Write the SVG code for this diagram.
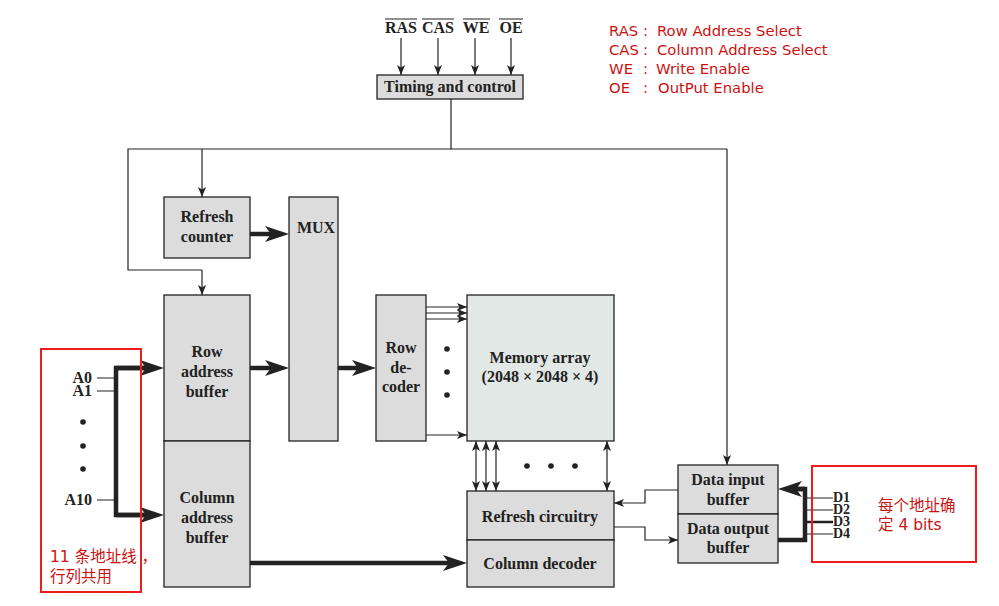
<svg xmlns="http://www.w3.org/2000/svg" width="999" height="606" viewBox="0 0 999 606">
<style>
.box{fill:#dcdcdc;stroke:#222;stroke-width:1.3}
.mem{fill:#e1e8e5;stroke:#222;stroke-width:1.3}
.lbl{font-family:"Liberation Serif","Times New Roman",serif;font-weight:bold;font-size:16px;fill:#222;text-anchor:middle}
.pin{font-family:"Liberation Serif","Times New Roman",serif;font-weight:bold;font-size:16px;fill:#222}
.dpin{font-family:"Liberation Serif","Times New Roman",serif;font-weight:bold;font-size:14px;fill:#222}
.thin{fill:none;stroke:#222;stroke-width:1.2}
.thick{fill:none;stroke:#222;stroke-width:4.5}
.red{font-family:"DejaVu Sans","Noto Sans CJK SC",sans-serif;font-size:14.8px;fill:#cc1111}
.redc{font-family:"DejaVu Sans","Noto Sans CJK SC",sans-serif;font-size:15.5px;fill:#cc1111}
.rbox{fill:none;stroke:#ee1c1c;stroke-width:2}
.dot{fill:#222}
</style>
<defs>
<marker id="ah" viewBox="0 0 10 8" refX="10" refY="4" markerWidth="10" markerHeight="8" markerUnits="userSpaceOnUse" orient="auto-start-reverse"><path d="M0,0 L10,4 L0,8 L2.5,4 z" fill="#222"/></marker>
<marker id="ahb" viewBox="0 0 24 16" refX="14" refY="8" markerWidth="24" markerHeight="16" markerUnits="userSpaceOnUse" orient="auto"><path d="M0,0 L24,8 L0,16 L6,8 z" fill="#222"/></marker>
</defs>

<!-- legend -->
<g id="legend">
<text class="red" y="36"><tspan x="609">RAS</tspan><tspan x="643">:</tspan><tspan x="657">Row Address Select</tspan></text>
<text class="red" y="55"><tspan x="609">CAS</tspan><tspan x="643">:</tspan><tspan x="657">Column Address Select</tspan></text>
<text class="red" y="74"><tspan x="609">WE</tspan><tspan x="643">:</tspan><tspan x="656">Write Enable</tspan></text>
<text class="red" y="93"><tspan x="609">OE</tspan><tspan x="643">:</tspan><tspan x="658">OutPut Enable</tspan></text>
</g>

<!-- control signals -->
<g id="signals">
<text class="lbl" x="401" y="33">RAS</text>
<text class="lbl" x="438" y="33">CAS</text>
<text class="lbl" x="476" y="33">WE</text>
<text class="lbl" x="511" y="33">OE</text>
<path class="thin" d="M385,19 H417 M422,19 H454 M463,19 H490 M499,19 H523"/>
</g>

<g id="timing">
<rect class="box" x="377" y="75" width="146" height="24"/>
<text class="lbl" x="450" y="92">Timing and control</text>
</g>

<g id="refresh-counter">
<rect class="box" x="164" y="197" width="86" height="61"/>
<text class="lbl" x="207" y="222">Refresh</text>
<text class="lbl" x="207" y="242">counter</text>
</g>

<g id="mux">
<rect class="box" x="289" y="197" width="49" height="244"/>
<text class="lbl" x="316" y="233">MUX</text>
</g>

<g id="row-address-buffer">
<rect class="box" x="164" y="295" width="86" height="146"/>
<text class="lbl" x="207" y="357">Row</text>
<text class="lbl" x="207" y="377">address</text>
<text class="lbl" x="207" y="397">buffer</text>
</g>

<g id="column-address-buffer">
<rect class="box" x="164" y="441" width="86" height="146"/>
<text class="lbl" x="207" y="503">Column</text>
<text class="lbl" x="207" y="523">address</text>
<text class="lbl" x="207" y="543">buffer</text>
</g>

<g id="row-decoder">
<rect class="box" x="376" y="295" width="50" height="146"/>
<text class="lbl" x="401" y="353">Row</text>
<text class="lbl" x="401" y="373">de-</text>
<text class="lbl" x="401" y="392">coder</text>
</g>

<g id="memory-array">
<rect class="mem" x="467" y="295" width="147" height="146"/>
<text class="lbl" x="540" y="363">Memory array</text>
<text class="lbl" x="540" y="382">(2048 × 2048 × 4)</text>
</g>

<g id="refresh-circuitry">
<rect class="box" x="467" y="491" width="147" height="49"/>
<text class="lbl" x="540" y="522">Refresh circuitry</text>
</g>

<g id="column-decoder">
<rect class="box" x="467" y="540" width="147" height="47"/>
<text class="lbl" x="540" y="569">Column decoder</text>
</g>

<g id="data-input-buffer">
<rect class="box" x="678" y="465" width="100" height="49"/>
<text class="lbl" x="728" y="485">Data input</text>
<text class="lbl" x="728" y="505">buffer</text>
</g>

<g id="data-output-buffer">
<rect class="box" x="678" y="514" width="100" height="49"/>
<text class="lbl" x="728" y="534">Data output</text>
<text class="lbl" x="728" y="553">buffer</text>
</g>

<!-- address pins -->
<g id="address-pins">
<text class="pin" x="92" y="383" text-anchor="end">A0</text>
<text class="pin" x="92" y="396" text-anchor="end">A1</text>
<text class="pin" x="92" y="505" text-anchor="end">A10</text>
<circle class="dot" cx="83" cy="422" r="2.8"/>
<circle class="dot" cx="83" cy="446" r="2.8"/>
<circle class="dot" cx="83" cy="469" r="2.8"/>
</g>

<!-- data pins -->
<g id="data-pins">
<text class="dpin" x="833" y="502">D1</text>
<text class="dpin" x="833" y="514">D2</text>
<text class="dpin" x="833" y="526">D3</text>
<text class="dpin" x="833" y="538">D4</text>
</g>

<g id="dots">
<circle class="dot" cx="447" cy="349" r="2.8"/>
<circle class="dot" cx="447" cy="372" r="2.8"/>
<circle class="dot" cx="447" cy="395" r="2.8"/>
<circle class="dot" cx="527" cy="466" r="2.8"/>
<circle class="dot" cx="551" cy="466" r="2.8"/>
<circle class="dot" cx="575" cy="466" r="2.8"/>
</g>

<!-- connectors -->
<g id="connectors">
<path class="thin" marker-end="url(#ah)" d="M401,38 V75"/>
<path class="thin" marker-end="url(#ah)" d="M438,38 V75"/>
<path class="thin" marker-end="url(#ah)" d="M475,38 V75"/>
<path class="thin" marker-end="url(#ah)" d="M511,38 V75"/>
<path class="thin" d="M451,99 V149 H727"/>
<path class="thin" marker-end="url(#ah)" d="M727,149 V465"/>
<path class="thin" d="M451,149 H128 V270 H202"/>
<path class="thin" marker-end="url(#ah)" d="M202,270 V295"/>
<path class="thin" marker-end="url(#ah)" d="M202,149 V197"/>

<path class="thick" marker-end="url(#ahb)" d="M250,234 H279"/>
<path class="thick" marker-end="url(#ahb)" d="M250,368 H279"/>
<path class="thick" marker-end="url(#ahb)" d="M338,368 H366"/>
<path class="thick" marker-end="url(#ahb)" d="M250,563 H457"/>

<path class="thin" marker-end="url(#ah)" d="M426,307 H467"/>
<path class="thin" marker-end="url(#ah)" d="M426,313 H467"/>
<path class="thin" marker-end="url(#ah)" d="M426,319 H467"/>
<path class="thin" marker-end="url(#ah)" d="M426,435 H467"/>

<path class="thin" marker-start="url(#ah)" marker-end="url(#ah)" d="M476,441 V491"/>
<path class="thin" marker-start="url(#ah)" marker-end="url(#ah)" d="M486,441 V491"/>
<path class="thin" marker-start="url(#ah)" marker-end="url(#ah)" d="M496,441 V491"/>
<path class="thin" marker-start="url(#ah)" marker-end="url(#ah)" d="M607,441 V491"/>

<path class="thin" marker-end="url(#ah)" d="M678,490 H645 V503 H614"/>
<path class="thin" marker-end="url(#ah)" d="M614,527 H645 V540 H678"/>

<path class="thin" d="M97,378 H116 M97,391 H116 M97,500 H116"/>
<path class="thick" d="M154,368 H116 V515 H154"/>
<path class="thick" marker-end="url(#ahb)" d="M116,368 H154"/>
<path class="thick" marker-end="url(#ahb)" d="M116,515 H154"/>

<path class="thin" d="M805,498 H833 M805,510 H833 M805,534 H833"/>
<path class="thick" style="stroke-width:2.5" d="M805,522 H833"/>
<path class="thick" d="M778,540 H805 V489 H788"/>
<path class="thick" marker-end="url(#ahb)" d="M805,489 H788"/>
</g>

<!-- annotations -->
<g id="note-address">
<rect class="rbox" x="41" y="349" width="100" height="243"/>
<text class="redc" x="50" y="562">11 条地址线 ，</text>
<text class="redc" x="50" y="582">行列共用</text>
</g>
<g id="note-data">
<rect class="rbox" x="812" y="466" width="164" height="96"/>
<text class="redc" x="878" y="511">每个地址确</text>
<text class="redc" x="878" y="530">定 4 bits</text>
</g>
</svg>
